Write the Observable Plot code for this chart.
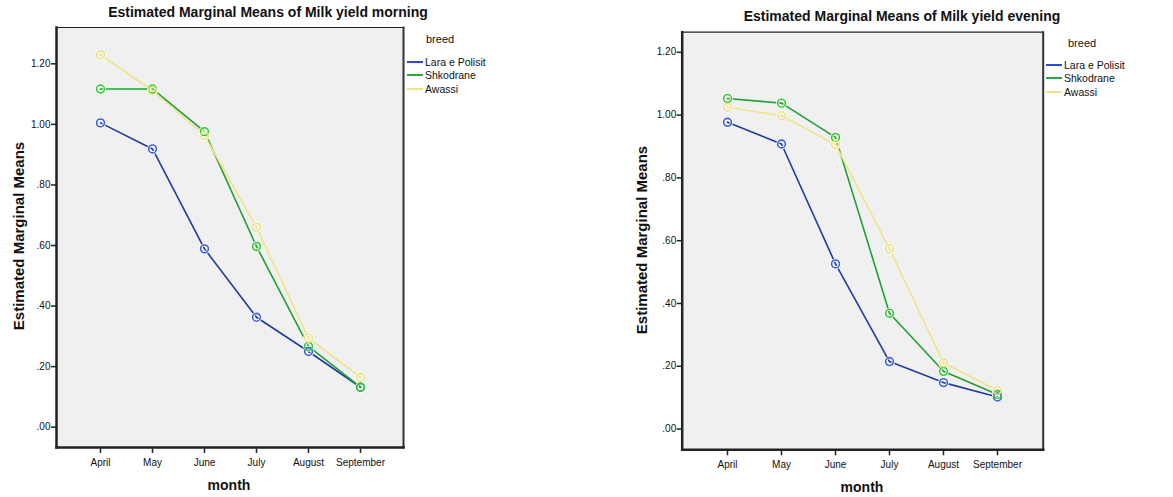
<!DOCTYPE html>
<html>
<head>
<meta charset="utf-8">
<script src="https://cdn.jsdelivr.net/npm/d3@7"></script>
<script src="https://cdn.jsdelivr.net/npm/@observablehq/plot@0.6"></script>
<style>
  html, body { margin: 0; padding: 0; background: #fff; }
  #wrap { position: relative; width: 1173px; height: 497px; overflow: hidden; font-family: 'Liberation Sans Narrow', 'Arial Narrow', Arial, 'Liberation Sans', sans-serif; }
  .abs { position: absolute; white-space: nowrap; color: #111; }
  .title { font-weight: bold; font-size: 14px; transform: translateX(-50%); }
  .ylab { font-weight: bold; font-size: 15px; transform: translate(-50%, -50%) rotate(-90deg); }
  .xlab { font-weight: bold; font-size: 14px; transform: translateX(-50%); }
  .legtitle { font-size: 11px; }
  .legitem { font-size: 10.5px; display: flex; align-items: center; height: 13px; }
  .legitem span.sw { display: inline-block; width: 16px; height: 2px; margin-right: 2px; }
  .svgbox { position: absolute; top: 0; }
</style>
</head>
<body>
<div id="wrap"></div>
<script>
const months = ["April", "May", "June", "July", "August", "September"];
const breeds = ["Lara e Polisit", "Shkodrane", "Awassi"];
const yTicks = [0, 0.2, 0.4, 0.6, 0.8, 1.0, 1.2];

// Milk yield morning
const morningLara = [1.005, 0.919, 0.589, 0.363, 0.250, 0.132];
const morningShkodrane = [1.117, 1.117, 0.976, 0.597, 0.267, 0.132];
const morningAwassi = [1.230, 1.112, 0.963, 0.660, 0.294, 0.165];

// Milk yield evening
const eveningLara = [0.977, 0.908, 0.526, 0.215, 0.148, 0.102];
const eveningShkodrane = [1.053, 1.038, 0.929, 0.369, 0.184, 0.110];
const eveningAwassi = [1.025, 0.998, 0.906, 0.574, 0.211, 0.123];

const lineColors = ["#1f3c9e", "#1fa035", "#efe48a"];
const dotColors = ["#3a5fd6", "#2ccc2c", "#ece07e"];
const legendColors = ["#2a4fc4", "#2aa83a", "#efe48a"];

function toRows(series) {
  const rows = [];
  series.forEach((vals, bi) => {
    vals.forEach((v, mi) => rows.push({ month: months[mi], breed: breeds[bi], value: v }));
  });
  return rows;
}

const fmt = d => d3.format(".2f")(d).replace(/^0\./, ".");

function makeChart(opts) {
  const rows = toRows(opts.series);
  const plot = Plot.plot({
    width: opts.width,
    height: 497,
    marginLeft: opts.ml,
    marginRight: opts.mr,
    marginTop: opts.mt,
    marginBottom: opts.mb,
    style: { fontFamily: "'Liberation Sans Narrow', 'Arial Narrow', Arial, 'Liberation Sans', sans-serif", fontSize: "10px", color: "#111", background: "transparent" },
    x: { type: "point", domain: months, padding: 0.83 },
    y: { domain: opts.ydomain },
    color: { domain: breeds, range: lineColors },
    marks: [
      Plot.frame({ fill: "#f0f0f0", stroke: "none" }),
      Plot.frame({ anchor: "top", stroke: "#222", strokeWidth: 1.2 }),
      Plot.frame({ anchor: "right", stroke: "#333", strokeWidth: 2 }),
      Plot.frame({ anchor: "left", stroke: "#222", strokeWidth: 2.5 }),
      Plot.frame({ anchor: "bottom", stroke: "#222", strokeWidth: 2.5 }),
      Plot.axisY({ ticks: yTicks, tickFormat: fmt, tickSize: 5, tickPadding: 1, label: null, stroke: "#222", strokeWidth: 1.5 }),
      Plot.axisX({ tickSize: 6, tickPadding: 5, label: null, stroke: "#222", strokeWidth: 1.5 }),
      Plot.line(rows, { x: "month", y: "value", z: "breed", stroke: d => lineColors[breeds.indexOf(d.breed)], strokeWidth: 1.6 }),
      Plot.dot(rows, { x: "month", y: "value", r: 3.9, stroke: "white", strokeWidth: 3, fill: "none" }),
      Plot.dot(rows, { x: "month", y: "value", r: 3.9, stroke: d => dotColors[breeds.indexOf(d.breed)], strokeWidth: 1.6, fill: "none" })
    ]
  });
  return plot;
}

const wrap = document.getElementById("wrap");

function addDiv(cls, text, left, top) {
  const d = document.createElement("div");
  d.className = "abs " + cls;
  d.textContent = text;
  d.style.left = left + "px";
  d.style.top = top + "px";
  wrap.appendChild(d);
  return d;
}

function addLegend(left, top, itemTop, swLeft) {
  addDiv("legtitle", "breed", left, top);
  breeds.forEach((b, i) => {
    const d = document.createElement("div");
    d.className = "abs legitem";
    d.style.left = swLeft + "px";
    d.style.top = (itemTop + i * 13.8) + "px";
    const sw = document.createElement("span");
    sw.className = "sw";
    sw.style.background = legendColors[i];
    const t = document.createElement("span");
    t.textContent = b;
    d.appendChild(sw);
    d.appendChild(t);
    wrap.appendChild(d);
  });
}

// Left chart
const left = makeChart({
  series: [morningLara, morningShkodrane, morningAwassi],
  width: 586, ml: 56, mr: 183, mt: 27, mb: 50,
  ydomain: [-0.067, 1.32]
});
const lbox = document.createElement("div");
lbox.className = "svgbox";
lbox.style.left = "0px";
lbox.appendChild(left);
wrap.appendChild(lbox);

// Right chart
const right = makeChart({
  series: [eveningLara, eveningShkodrane, eveningAwassi],
  width: 587, ml: 95.7, mr: 130.3, mt: 31.7, mb: 47.7,
  ydomain: [-0.066, 1.264]
});
const rbox = document.createElement("div");
rbox.className = "svgbox";
rbox.style.left = "586px";
rbox.appendChild(right);
wrap.appendChild(rbox);

// Titles and labels
addDiv("title", "Estimated Marginal Means of Milk yield morning", 268, 4);
addDiv("title", "Estimated Marginal Means of Milk yield evening", 902, 8);
addDiv("ylab", "Estimated Marginal Means", 18, 236);
addDiv("ylab", "Estimated Marginal Means", 641, 240);
addDiv("xlab", "month", 229, 477);
addDiv("xlab", "month", 862, 479);

addLegend(426, 33, 55, 407);
addLegend(1068, 37, 58, 1046);
</script>
</body>
</html>
